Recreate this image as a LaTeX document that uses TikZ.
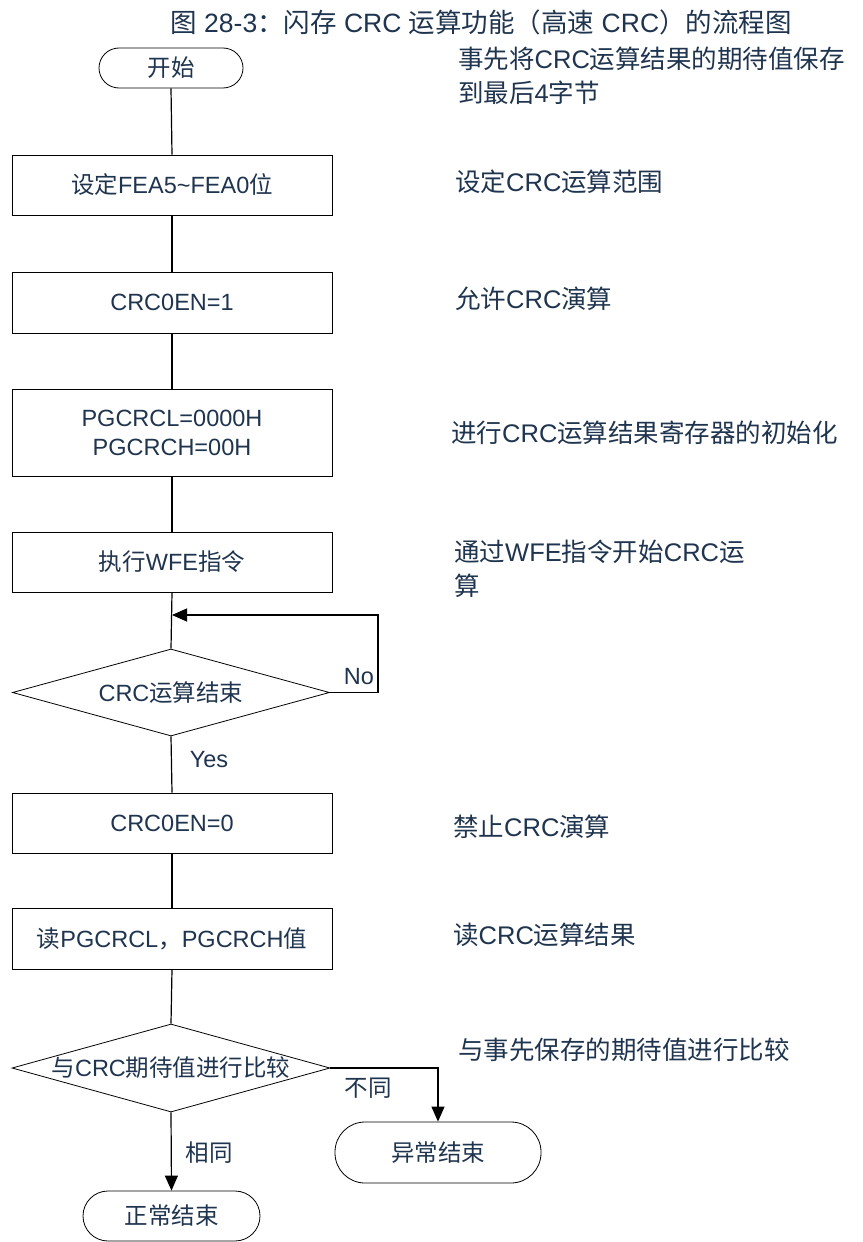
\documentclass[tikz,border=0pt]{standalone}
\usepackage{fontspec}
\setmainfont{Liberation Sans}
\newfontfamily\cjkf{Noto Sans CJK SC}
\newcommand\zhs[1]{{\cjkf #1}}
\usetikzlibrary{shapes.geometric,arrows.meta}
\definecolor{txt}{RGB}{31,52,78}
\begin{document}
\begin{tikzpicture}[x=1pt,y=-1pt,
  every node/.style={text=txt, inner sep=0pt},
  boxtxt/.style={font=\fontsize{23.5}{29}\selectfont},
  anntxt/.style={font=\fontsize{25.5}{34}\selectfont, anchor=west, align=left},
  box/.style={draw=black, line width=0.9pt, minimum width=320pt, fill=white, boxtxt, align=center},
  term/.style={draw=black, line width=0.8pt, fill=white, boxtxt},
  dec/.style={diamond, draw=black, line width=0.8pt, minimum width=317pt, minimum height=87pt, boxtxt},
  conn/.style={draw=black, line width=1.2pt},
  arr/.style={conn, -{Triangle[length=15pt,width=13pt]}},
  lbl/.style={boxtxt}
]
\useasboundingbox (0,0) rectangle (862,1242);

% title
\node[font=\fontsize{26.5}{30}\selectfont] (title) at (481,22)
  {\zhs{图} 28-3\zhs{：闪存} CRC \zhs{运算功能（高速} CRC\zhs{）的流程图}};

% flow nodes
\node[term, minimum width=144pt, minimum height=40pt, rounded corners=20pt] (start) at (171,68) {\zhs{开始}};
\node[box, minimum height=60pt] (b1) at (172,185) {\zhs{设定}FEA5\textasciitilde FEA0\zhs{位}};
\node[box, minimum height=61pt] (b2) at (172,302.5) {CRC0EN=1};
\node[box, minimum height=87pt] (b3) at (172,432.5) {PGCRCL=0000H\\PGCRCH=00H};
\node[box, minimum height=60pt] (b4) at (172,562) {\zhs{执行}WFE\zhs{指令}};
\node[dec] (d1) at (171,692.5) {\makebox[0pt]{CRC\zhs{运算结束}}};
\node[box, minimum height=60pt] (b5) at (172,823) {CRC0EN=0};
\node[box, minimum height=61pt] (b6) at (172,938.5) {\zhs{读}PGCRCL\zhs{，}PGCRCH\zhs{值}};
\node[dec, minimum width=318pt, minimum height=88pt] (d2) at (171,1068) {\makebox[0pt]{\zhs{与}CRC\zhs{期待值进行比较}}};
\node[term, minimum width=206pt, minimum height=61pt, rounded corners=30pt] (err) at (438,1152.5) {\zhs{异常结束}};
\node[term, minimum width=177pt, minimum height=50pt, rounded corners=25pt] (ok) at (171.5,1216) {\zhs{正常结束}};

% connectors
\draw[conn] (start.south) -- (b1.north);
\draw[conn] (b1.south) -- (b2.north);
\draw[conn] (b2.south) -- (b3.north);
\draw[conn] (b3.south) -- (b4.north);
\draw[conn] (b4.south) -- (d1.north);
\coordinate (loopR) at (378,615);
\coordinate (loopIn) at (172,615);
\draw[arr] (d1.east) -| (loopR) -- (loopIn);
\draw[conn] (d1.south) -- (b5.north);
\draw[conn] (b5.south) -- (b6.north);
\draw[conn] (b6.south) -- (d2.north);
\draw[arr] (d2.south) -- (ok.north);
\draw[arr] (d2.east) -| (err.north);

% branch labels
\node[lbl] (no) at (359,677) {No};
\node[lbl] (yes) at (209,760) {Yes};
\node[lbl] (same) at (209,1153) {\zhs{相同}};
\node[lbl] (diff) at (368,1088) {\zhs{不同}};

% annotations
\node[anntxt] (a1) at (458,76) {\zhs{事先将}CRC\zhs{运算结果的期待值保存}\\\zhs{到最后}4\zhs{字节}};
\node[anntxt] (a2) at (455,182) {\zhs{设定}CRC\zhs{运算范围}};
\node[anntxt] (a3) at (455,299) {\zhs{允许}CRC\zhs{演算}};
\node[anntxt] (a4) at (451,433) {\zhs{进行}CRC\zhs{运算结果寄存器的初始化}};
\node[anntxt] (a5) at (454,568.5) {\zhs{通过}WFE\zhs{指令开始}CRC\zhs{运}\\\zhs{算}};
\node[anntxt] (a6) at (453,827) {\zhs{禁止}CRC\zhs{演算}};
\node[anntxt] (a7) at (453,935) {\zhs{读}CRC\zhs{运算结果}};
\node[anntxt] (a8) at (458,1050) {\zhs{与事先保存的期待值进行比较}};
\end{tikzpicture}
\end{document}
